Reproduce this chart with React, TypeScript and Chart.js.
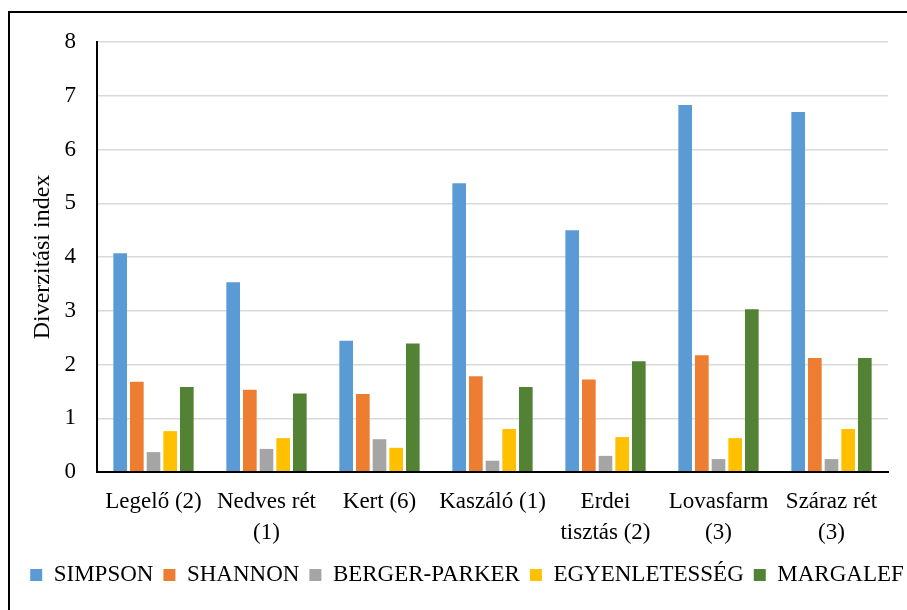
import React, { useEffect, useRef } from "react";
import { Chart, registerables } from "chart.js";

Chart.register(...registerables);

const categories: (string | string[])[] = [
  "Legelő (2)",
  ["Nedves rét", "(1)"],
  "Kert (6)",
  "Kaszáló (1)",
  ["Erdei", "tisztás (2)"],
  ["Lovasfarm", "(3)"],
  ["Száraz rét", "(3)"],
];

const simpson = [4.07, 3.53, 2.44, 5.37, 4.5, 6.83, 6.7];
const shannon = [1.68, 1.53, 1.45, 1.78, 1.72, 2.17, 2.12];
const bergerParker = [0.37, 0.43, 0.61, 0.21, 0.3, 0.24, 0.24];
const egyenletesseg = [0.76, 0.63, 0.45, 0.8, 0.65, 0.63, 0.8];
const margalef = [1.58, 1.46, 2.39, 1.58, 2.06, 3.03, 2.12];

const seriesNames = ["SIMPSON", "SHANNON", "BERGER-PARKER", "EGYENLETESSÉG", "MARGALEF"];
const seriesColors = ["#5B9BD5", "#ED7D31", "#A5A5A5", "#FFC000", "#548235"];
const yTicks = [0, 1, 2, 3, 4, 5, 6, 7, 8];
const yTitle = "Diverzitási index";

const W = 914;
const H = 597;
const FONT = "'Times New Roman', 'Liberation Serif', serif";

export default function App() {
  const ref = useRef<HTMLCanvasElement>(null);

  useEffect(() => {
    const values = [simpson, shannon, bergerParker, egyenletesseg, margalef];
    const chart = new Chart(ref.current as HTMLCanvasElement, {
      type: "bar",
      data: {
        labels: categories,
        datasets: values.map((v, i) => ({
          label: seriesNames[i],
          data: v,
          backgroundColor: seriesColors[i],
          borderWidth: 0,
          categoryPercentage: 0.737,
          barPercentage: 0.82,
        })),
      },
      options: {
        responsive: false,
        animation: false,
        devicePixelRatio: 1,
        layout: { padding: { top: 29, left: 0, right: 0, bottom: 13.5 } },
        plugins: {
          tooltip: { enabled: false },
          legend: {
            position: "bottom",
            labels: {
              boxWidth: 12,
              boxHeight: 12,
              padding: 10,
              color: "#000",
              font: { family: FONT, size: 23 },
            },
          },
        },
        scales: {
          x: {
            grid: { display: false, drawTicks: false },
            border: { display: true, color: "#000", width: 2, z: 1 },
            ticks: {
              color: "#000",
              font: { family: FONT, size: 23, lineHeight: 1.37 },
              padding: 14,
              maxRotation: 0,
              minRotation: 0,
              autoSkip: false,
            },
            afterFit: (s: any) => {
              s.height = 81.5;
              s.paddingLeft = 0;
              s.paddingRight = 0;
            },
          },
          y: {
            min: yTicks[0],
            max: yTicks[yTicks.length - 1],
            grid: { color: "#d9d9d9", lineWidth: 1.5, drawTicks: false },
            border: { display: true, color: "#000", width: 2, z: 1 },
            ticks: {
              stepSize: 1,
              color: "#000",
              padding: 21,
              font: { family: FONT, size: 23 },
            },
            title: {
              display: true,
              text: yTitle,
              color: "#000",
              font: { family: FONT, size: 24 },
              padding: { top: 18, bottom: 0 },
            },
            afterFit: (s: any) => {
              s.width = 87;
              s.paddingTop = 0;
              s.paddingBottom = 0;
            },
          },
          spacer: {
            type: "linear",
            position: "right",
            display: true,
            grid: { display: false, drawTicks: false },
            border: { display: false },
            ticks: { display: false },
            afterFit: (s: any) => {
              s.width = 36;
              s.paddingTop = 0;
              s.paddingBottom = 0;
            },
          },
        },
      } as any,
    });
    return () => chart.destroy();
  }, []);

  return (
    <div
      style={{
        position: "fixed",
        left: 8,
        top: 11,
        width: W,
        height: H,
        border: "2px solid #000",
        background: "#fff",
      }}
    >
      <canvas ref={ref} width={W} height={H} style={{ display: "block", width: W, height: H }} />
    </div>
  );
}
